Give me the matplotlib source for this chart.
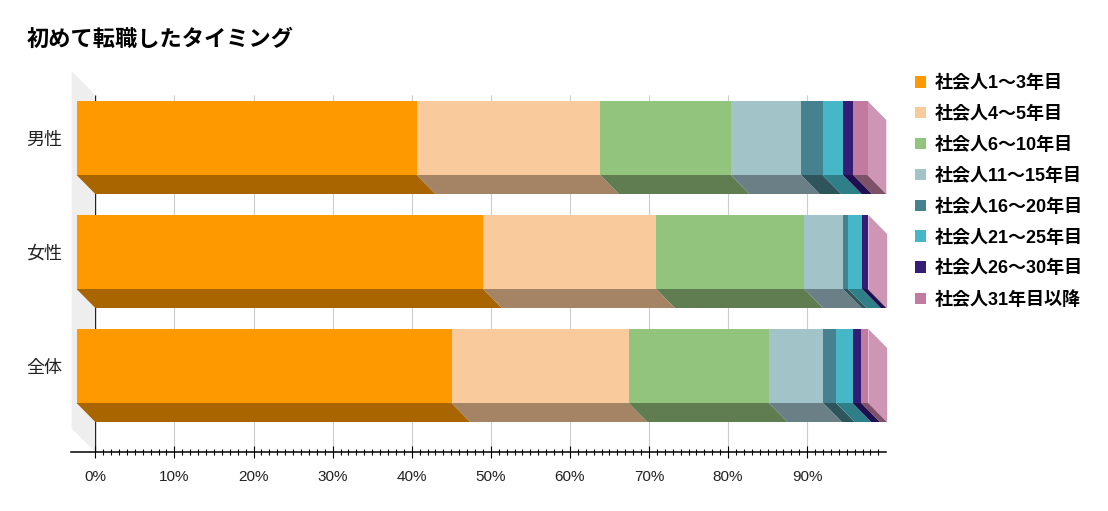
import numpy as np
import matplotlib
matplotlib.use("Agg")
import matplotlib.pyplot as plt
from matplotlib.patches import Polygon
from matplotlib.transforms import Affine2D
from matplotlib.ticker import FixedLocator

FONT = ['Liberation Sans', 'Noto Sans CJK JP']
CJK = ['Noto Sans CJK JP', 'Liberation Sans']
plt.rcParams['font.family'] = FONT

title = "初めて転職したタイミング"
categories = ["全体", "女性", "男性"]
series_names = ["社会人1～3年目", "社会人4～5年目", "社会人6～10年目", "社会人11～15年目",
                "社会人16～20年目", "社会人21～25年目", "社会人26～30年目", "社会人31年目以降"]
s1 = [47.4, 51.4, 43.0]
s2 = [22.4, 21.9, 23.2]
s3 = [17.7, 18.7, 16.5]
s4 = [6.9, 4.9, 8.9]
s5 = [1.6, 0.6, 2.7]
s6 = [2.1, 1.8, 2.6]
s7 = [1.1, 0.7, 1.3]
s8 = [0.9, 0.1, 1.8]
series = [s1, s2, s3, s4, s5, s6, s7, s8]
front_colors = ["#FF9900", "#F9CB9C", "#93C47D", "#A2C4C9", "#45818E", "#45B7C6", "#351C75", "#C27BA0"]
floor_colors = ["#A86500", "#A48464", "#5F7D50", "#6B8086", "#2E555C", "#2E7F87", "#1F0F50", "#7F5168"]
side_color = "#CE95B4"
wall_color = "#EEEEEE"

W, H = 1108, 511
fig = plt.figure(figsize=(W / 100, H / 100), dpi=100)
X0, X100, YT, YB = 95.3, 886.3, 95.0, 452.0
ax = fig.add_axes([X0 / W, 1 - YB / H, (X100 - X0) / W, (YB - YT) / H])
px_x = (X100 - X0) / 100
px_y = 114.0
ax.set_xlim(0, 100)
ax.set_ylim(-(YB - 366) / px_y, (366 - YT) / px_y)
for s in ax.spines.values():
    s.set_visible(False)

# 3-D depth of the bars and of the wall
dx, dy = 18.7 / px_x, 19.0 / px_y
wx, wy = 23.6 / px_x, 23.6 / px_y
bh = 74.0 / px_y
y = np.arange(len(categories))
front = ax.transData + Affine2D().translate(-18.7, 0)

y0, y1 = ax.get_ylim()
ax.add_patch(Polygon([(-wx, y0 + wy), (0, y0), (0, y1), (-wx, y1 + wy)], closed=True,
                     fc=wall_color, ec="none", clip_on=False, zorder=1))
ax.vlines(np.arange(10, 100, 10), y0, y1, color="#CCCCCC", lw=0.8, zorder=1.5)
ax.vlines(0, y0, y1, color="#222222", lw=1, zorder=1.5)

left = np.zeros(len(y))
for vals, fc, fl, name in zip(series, front_colors, floor_colors, series_names):
    v = np.array(vals)
    ax.barh(y, v, left=left, height=bh, color=fc, lw=0, transform=front,
            clip_on=False, zorder=3, label=name)
    for yi, l, w in zip(y, left, v):
        b = yi - bh / 2
        ax.add_patch(Polygon([(l - dx, b), (l + w - dx, b), (l + w, b - dy), (l, b - dy)], closed=True,
                             fc=fl, ec="none", clip_on=False, zorder=2.5))
    left = left + v
for yi, t in zip(y, left):
    b, top = yi - bh / 2, yi + bh / 2
    ax.add_patch(Polygon([(t - dx, top), (t, top - dy), (t, b - dy), (t - dx, b)], closed=True,
                         fc=side_color, ec="none", clip_on=False, zorder=2.5))
ax.set_xlim(0, 100)
ax.set_ylim(y0, y1)

# axis line
ax.plot([-3.1, 100], [y0, y0], color="black", lw=1.1, clip_on=False, zorder=4)
ax.set_xticks(np.arange(0, 100, 10))
ax.set_xticklabels([f"{v}%" for v in range(0, 100, 10)], fontsize=11, color="#222222")
ax.xaxis.set_minor_locator(FixedLocator(np.arange(1, 100, 1)))
ax.tick_params(axis='x', which='major', direction='inout', length=8, width=0.8, pad=9, color="black")
ax.tick_params(axis='x', which='minor', direction='inout', length=4.6, width=0.8, color="black")
ax.set_yticks(y)
ax.set_yticklabels(categories, fontsize=13, color="#222222", family=CJK)
ax.tick_params(axis='y', length=0, pad=24)

fig.text(27 / W, 1 - 39 / H, title, fontsize=16, fontweight='bold', family=CJK, va='center', color="black")

handles, labels = ax.get_legend_handles_labels()
leg = fig.legend(handles, labels, loc='upper left', bbox_to_anchor=(915 / W, 1 - 75 / H),
                 frameon=False, handlelength=0.61, handleheight=0.61, handletextpad=0.5,
                 labelspacing=0.76, borderpad=0, borderaxespad=0,
                 prop={'family': FONT, 'weight': 'bold', 'size': 13})
fig.savefig("out.png", dpi=100)
